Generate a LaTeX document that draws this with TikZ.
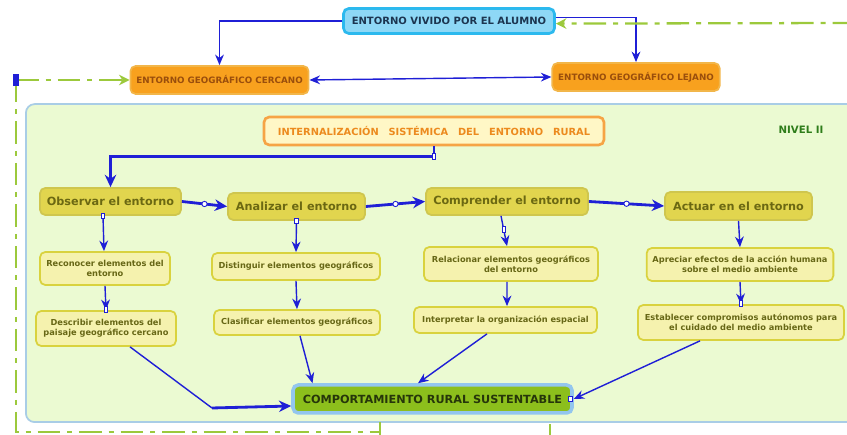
\documentclass[tikz,border=0pt]{standalone}
\usepackage{fontspec}
\setmainfont{DejaVu Sans}
\usepackage{tikz}
\usetikzlibrary{calc}
\usetikzlibrary{arrows.meta}
\definecolor{cyanfill}{HTML}{8ED8F6}
\definecolor{cyanline}{HTML}{2CB9EE}
\definecolor{navytext}{HTML}{1C3550}
\definecolor{orangefill}{HTML}{F8A11E}
\definecolor{orangeline}{HTML}{F2B64A}
\definecolor{orangetext}{HTML}{9A4E0C}
\definecolor{panelfill}{HTML}{EBFAD2}
\definecolor{panelline}{HTML}{A9CDE6}
\definecolor{titlefill}{HTML}{FFF7C6}
\definecolor{titleline}{HTML}{F6A445}
\definecolor{titletext}{HTML}{EC8A1E}
\definecolor{levelgreen}{HTML}{2E7D1A}
\definecolor{stepfill}{HTML}{E1D54E}
\definecolor{stepline}{HTML}{CFC64E}
\definecolor{steptext}{HTML}{6B6812}
\definecolor{taskfill}{HTML}{F5F2AE}
\definecolor{taskline}{HTML}{D9D23E}
\definecolor{tasktext}{HTML}{676716}
\definecolor{goalfill}{HTML}{8CBF1C}
\definecolor{goalline}{HTML}{93C6EE}
\definecolor{goaltext}{HTML}{26360A}
\definecolor{linkblue}{HTML}{1F1FD6}
\definecolor{dashgreen}{HTML}{9CC93C}
\tikzset{
	vividstyle/.style={rectangle,rounded corners=3pt,draw=cyanline,line width=1.5pt,fill=cyanfill,text=navytext,font=\bfseries\fontsize{5.7}{7}\selectfont},
	orangestyle/.style={rectangle,rounded corners=3pt,draw=orangeline,line width=1pt,fill=orangefill,text=orangetext,font=\bfseries\fontsize{5}{6}\selectfont},
	titlestyle/.style={rectangle,rounded corners=3pt,draw=titleline,line width=1.5pt,fill=titlefill,text=titletext,font=\bfseries\fontsize{5.6}{7}\selectfont},
	stepstyle/.style={rectangle,rounded corners=3pt,draw=stepline,line width=1pt,fill=stepfill,text=steptext,font=\bfseries\fontsize{6.4}{8}\selectfont},
	taskstyle/.style={rectangle,rounded corners=3pt,draw=taskline,line width=1pt,fill=taskfill,text=tasktext,align=center,font=\bfseries\fontsize{4.7}{5.8}\selectfont},
	goalstyle/.style={rectangle,rounded corners=3pt,draw=goalline,line width=2pt,fill=goalfill,text=goaltext,font=\bfseries\fontsize{6.4}{8}\selectfont},
	linkstyle/.style={draw=linkblue,line width=0.8pt,-{Stealth[length=6pt,width=5pt]}},
	boldlinkstyle/.style={draw=linkblue,line width=1.6pt,-{Stealth[length=7pt,width=6.5pt]}},
	greenstyle/.style={draw=dashgreen,line width=1.3pt,dash pattern=on 0.45cm off 0.14cm on 0.1cm off 0.14cm},
	hdl/.style={rectangle,draw=linkblue,fill=white,line width=0.5pt,inner sep=0pt,minimum width=2pt,minimum height=3pt},
	ring/.style={circle,draw=linkblue,fill=white,line width=0.5pt,inner sep=0pt,minimum size=3pt}
}

\begin{document}
\begin{tikzpicture}
	\normalsize
	\clip (0,0) rectangle (16.94,8.7);
	% panel of level II
	\node[rectangle,rounded corners=5pt,draw=panelline,line width=1pt,fill=panelfill,anchor=south west,minimum width=17cm,minimum height=6.36cm] (panel) at (0.5,0.24) {};
	\node[text=levelgreen,font=\bfseries\fontsize{5.8}{7}\selectfont] (nivel) at (16.02,6.1) {NIVEL II};
	% outer level
	\node[vividstyle,minimum width=4.22cm,minimum height=0.5cm] (viv) at (8.98,8.28) {ENTORNO VIVIDO POR EL ALUMNO};
	\node[orangestyle,minimum width=3.5cm,minimum height=0.56cm] (cer) at (4.39,7.1) {ENTORNO GEOGRÁFICO CERCANO};
	\node[orangestyle,minimum width=3.32cm,minimum height=0.56cm] (lej) at (12.72,7.16) {ENTORNO GEOGRÁFICO LEJANO};
	\draw[linkstyle] (viv.west) -| (cer.north);
	\draw[linkstyle] ([yshift=2pt]viv.east) -| (lej.north);
	\draw[linkstyle,{Stealth[length=6pt,width=5pt]}-{Stealth[length=6pt,width=5pt]}] (cer.east) -- (lej.west);
	\coordinate (gr) at (17.1,8.24);
	\coordinate (gl) at (0.32,7.1);
	\coordinate (gb) at (7.6,0.06);
	\draw[greenstyle,-{Stealth[length=6pt,width=6pt]}] (gr) -- ([yshift=-1.5pt]viv.east);
	\draw[greenstyle,-{Stealth[length=6pt,width=6pt]}] (gl) -- (cer.west);
	\draw[greenstyle] (gl) |- (gb);
	\draw[dashgreen,line width=1.3pt] (7.6,0.26) -- (7.6,-0.2);
	\draw[dashgreen,line width=1.3pt] (11,0.22) -- (11,-0.2);
	\node[rectangle,fill=linkblue,inner sep=0pt,minimum width=3pt,minimum height=7pt] (glmark) at (gl) {};
	% level II
	\node[titlestyle,minimum width=6.8cm,minimum height=0.56cm] (int) at (8.68,6.08) {INTERNALIZACIÓN\quad SISTÉMICA\quad DEL\quad ENTORNO\quad RURAL};
	\node[stepstyle,minimum width=2.82cm,minimum height=0.54cm] (obs) at (2.21,4.67) {Observar el entorno};
	\node[stepstyle,minimum width=2.74cm,minimum height=0.54cm] (ana) at (5.93,4.57) {Analizar el entorno};
	\node[stepstyle,minimum width=3.24cm,minimum height=0.54cm] (com) at (10.14,4.67) {Comprender el entorno};
	\node[stepstyle,minimum width=2.94cm,minimum height=0.56cm] (act) at (14.77,4.58) {Actuar en el entorno};
	\draw[boldlinkstyle] (int.south) -- ++(0,-0.2) node[hdl] {} -| (obs.north);
	\draw[boldlinkstyle] (obs.east) -- node[ring] {} (ana.west);
	\draw[boldlinkstyle] (ana.east) -- node[ring] {} (com.west);
	\draw[boldlinkstyle] (com.east) -- node[ring] {} (act.west);
	\node[taskstyle,minimum width=2.6cm,minimum height=0.66cm] (rec) at (2.1,3.33) {Reconocer elementos del\\entorno};
	\node[taskstyle,minimum width=3.36cm,minimum height=0.54cm] (dis) at (5.92,3.37) {Distinguir elementos geográficos};
	\node[taskstyle,minimum width=3.48cm,minimum height=0.68cm] (rel) at (10.22,3.42) {Relacionar elementos geográficos\\del entorno};
	\node[taskstyle,minimum width=3.72cm,minimum height=0.66cm] (apr) at (14.8,3.41) {Apreciar efectos de la acción humana\\sobre el medio ambiente};
	\node[taskstyle,minimum width=2.8cm,minimum height=0.7cm] (des) at (2.12,2.13) {Describir elementos del\\paisaje geográfico cercano};
	\node[taskstyle,minimum width=3.32cm,minimum height=0.5cm] (cla) at (5.94,2.25) {Clasificar elementos geográficos};
	\node[taskstyle,minimum width=3.66cm,minimum height=0.52cm] (inp) at (10.11,2.3) {Interpretar la organización espacial};
	\node[taskstyle,minimum width=4.12cm,minimum height=0.7cm] (est) at (14.82,2.25) {Establecer compromisos autónomos para\\el cuidado del medio ambiente};
	\draw[linkstyle] ([xshift=-0.15cm]obs.south) node[hdl] {} -- ([xshift=-0.02cm]rec.north);
	\draw[linkstyle] (rec.south) -- (des.north) node[hdl,pos=0.97] {};
	\draw[linkstyle] (ana.south) node[hdl] {} -- (dis.north);
	\draw[linkstyle] (dis.south) -- (cla.north);
	\draw[linkstyle] ([xshift=-0.12cm]com.south) -- node[hdl,pos=0.45] {} ([xshift=-0.08cm]rel.north);
	\draw[linkstyle] ([xshift=-0.08cm]rel.south) -- ([xshift=0.03cm]inp.north);
	\draw[linkstyle] (act.south) -- (apr.north);
	\draw[linkstyle] (apr.south) -- (est.north) node[hdl,pos=0.97] {};
	\node[goalstyle,minimum width=5.58cm,minimum height=0.56cm] (goal) at (8.65,0.72) {COMPORTAMIENTO RURAL SUSTENTABLE};
	\coordinate (bend) at (4.24,0.54);
	\draw[draw=linkblue,line width=0.8pt] ([xshift=0.48cm]des.south) -- (bend);
	\draw[boldlinkstyle] (bend) -- ([yshift=-0.14cm]goal.west);
	\draw[linkstyle] ([xshift=0.06cm]cla.south) -- ([xshift=-2.4cm]goal.north);
	\draw[linkstyle] ([xshift=-0.37cm]inp.south) -- ([xshift=-0.29cm]goal.north);
	\draw[linkstyle] ([xshift=-0.82cm]est.south) -- (goal.east);
	\node[hdl] (goalmark) at ([xshift=-2pt]goal.east) {};
\end{tikzpicture}
\end{document}
